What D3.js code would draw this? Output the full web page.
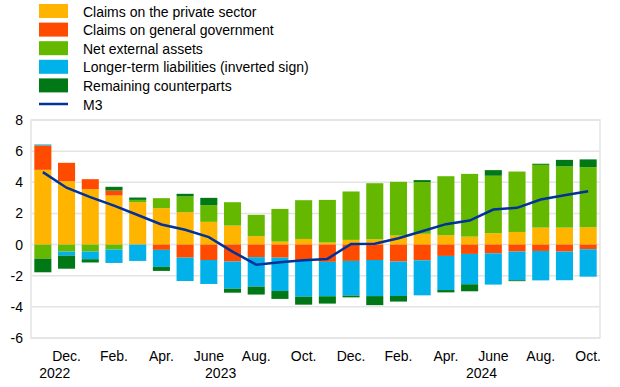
<!DOCTYPE html>
<html>
<head>
<meta charset="utf-8">
<script src="https://cdn.jsdelivr.net/npm/d3@7"></script>
<style>
  body { margin: 0; background: #fff; }
  svg { font-family: "Liberation Sans", Arial, sans-serif; }
</style>
</head>
<body>
<svg width="620" height="387"></svg>
<script>
"use strict";

// Months shown on the x axis (Nov 2022 - Oct 2024)
var months = ["2022-11", "2022-12", "2023-01", "2023-02", "2023-03", "2023-04", "2023-05", "2023-06",
    "2023-07", "2023-08", "2023-09", "2023-10", "2023-11", "2023-12", "2024-01", "2024-02",
    "2024-03", "2024-04", "2024-05", "2024-06", "2024-07", "2024-08", "2024-09", "2024-10"];

// Tick labels (every second month) and year labels
var monthTicks = ["2022-12", "2023-02", "2023-04", "2023-06", "2023-08", "2023-10",
    "2023-12", "2024-02", "2024-04", "2024-06", "2024-08", "2024-10"];
var monthLabels = ["Dec.", "Feb.", "Apr.", "June", "Aug.", "Oct.",
    "Dec.", "Feb.", "Apr.", "June", "Aug.", "Oct."];
var years = ["2022", "2023", "2024"];
var yTicks = [-6, -4, -2, 0, 2, 4, 6, 8];

// Contributions (percentage points)
var privateSector = [4.80, 4.07, 3.56, 3.15, 2.72, 2.34, 2.08, 1.46, 1.22, 0.54, 0.19, 0.36,
    0.13, 0.30, 0.34, 0.58, 0.69, 0.60, 0.51, 0.73, 0.81, 1.09, 1.09, 1.11];
var generalGov = [1.57, 1.18, 0.64, 0.32, 0.00, -0.34, -0.84, -0.99, -1.09, -0.81, -0.84, -1.03,
    -1.11, -1.05, -0.99, -1.09, -1.01, -0.73, -0.60, -0.56, -0.45, -0.41, -0.45, -0.30];
var netExternal = [-0.90, -0.45, -0.45, -0.32, 0.15, 0.64, 1.01, 1.07, 1.50, 1.37, 2.10, 2.49,
    2.74, 3.11, 3.60, 3.45, 3.32, 3.79, 4.03, 3.69, 3.88, 4.03, 3.93, 3.86];
var longerTerm = [0.06, -0.26, -0.49, -0.86, -1.05, -1.09, -1.50, -1.54, -1.74, -1.89, -2.14, -2.32,
    -2.21, -2.23, -2.32, -2.21, -2.25, -2.19, -1.95, -2.01, -1.84, -1.89, -1.84, -1.76];
var remaining = [-0.88, -0.84, -0.21, 0.24, 0.15, -0.26, 0.17, 0.47, -0.26, -0.51, -0.51, -0.51,
    -0.47, -0.11, -0.58, -0.36, 0.13, -0.15, -0.45, 0.36, -0.06, 0.07, 0.42, 0.50];
var m3 = [4.65, 3.65, 3.05, 2.50, 1.90, 1.29, 0.95, 0.48, -0.45, -1.29, -1.14, -1.01,
    -0.92, 0.04, 0.06, 0.41, 0.86, 1.31, 1.54, 2.25, 2.36, 2.89, 3.17, 3.43];

var seriesKeys = ["private", "gov", "ext", "lt", "rem"];
var seriesNames = ["Claims on the private sector", "Claims on general government",
    "Net external assets", "Longer-term liabilities (inverted sign)", "Remaining counterparts"];
var seriesColors = ["#ffb400", "#ff4b00", "#65b800", "#00b1ea", "#007816"];

var table = months.map(function (m, i) {
    return { month: m, "private": privateSector[i], gov: generalGov[i], ext: netExternal[i],
        lt: longerTerm[i], rem: remaining[i] };
});

var svg = d3.select("svg");

var xScale = d3.scaleBand()
    .domain(months)
    .range([31, 600])
    .paddingInner(0.28)
    .paddingOuter(0.14);

var yScale = d3.scaleLinear()
    .domain([-6, 8])
    .range([338, 120]);

// Gridlines
svg.append("g")
    .attr("class", "grid")
    .selectAll("line")
    .data(yTicks)
    .enter().append("line")
        .attr("x1", 31)
        .attr("x2", 600)
        .attr("y1", function (d) { return yScale(d); })
        .attr("y2", function (d) { return yScale(d); })
        .attr("stroke", "#e4e4e4")
        .attr("stroke-width", 1.5);

// Frame
svg.append("rect")
    .attr("x", 31)
    .attr("y", yScale(8))
    .attr("width", 569)
    .attr("height", yScale(-6) - yScale(8))
    .attr("fill", "none")
    .attr("stroke", "#e4e4e4")
    .attr("stroke-width", 1.5);

// Y axis labels
svg.append("g")
    .selectAll("text")
    .data(yTicks)
    .enter().append("text")
        .attr("x", 23)
        .attr("y", function (d) { return yScale(d) + 5; })
        .attr("text-anchor", "end")
        .style("font-size", "14px")
        .attr("fill", "#000")
        .text(function (d) { return d; });

// Stacked bars
var stack = d3.stack()
    .keys(seriesKeys)
    .offset(d3.stackOffsetDiverging);

var layers = stack(table);

svg.append("g")
    .attr("class", "bars")
    .selectAll("g")
    .data(layers)
    .enter().append("g")
        .attr("fill", function (d, i) { return seriesColors[i]; })
    .selectAll("rect")
    .data(function (d) { return d; })
    .enter().append("rect")
        .attr("x", function (d) { return xScale(d.data.month); })
        .attr("width", xScale.bandwidth())
        .attr("y", function (d) { return yScale(Math.max(d[0], d[1])); })
        .attr("height", function (d) { return Math.abs(yScale(d[0]) - yScale(d[1])); });

// M3 line
var line = d3.line()
    .x(function (d, i) { return xScale(months[i]) + xScale.bandwidth() / 2; })
    .y(function (d) { return yScale(d); });

svg.append("path")
    .datum(m3)
    .attr("d", line)
    .attr("fill", "none")
    .attr("stroke", "#003299")
    .attr("stroke-width", 2.5);

// X axis labels
svg.append("g")
    .selectAll("text")
    .data(monthTicks)
    .enter().append("text")
        .attr("x", function (d) { return xScale(d) + xScale.bandwidth() / 2; })
        .attr("y", 361)
        .attr("text-anchor", "middle")
        .style("font-size", "14px")
        .text(function (d, i) { return monthLabels[i]; });

svg.append("g")
    .selectAll("text")
    .data(years)
    .enter().append("text")
        .attr("x", function (y) {
            var inYear = months.filter(function (m) { return m.slice(0, 4) === y; });
            var first = xScale(inYear[0]);
            var last = xScale(inYear[inYear.length - 1]) + xScale.bandwidth();
            return (first + last) / 2;
        })
        .attr("y", 378)
        .attr("text-anchor", "middle")
        .style("font-size", "14px")
        .text(function (d) { return d; });

// Legend
var legend = svg.append("g").attr("class", "legend");
seriesNames.forEach(function (name, i) {
    var cy = 11 + i * 18.6;
    legend.append("rect")
        .attr("x", 39)
        .attr("y", cy - 7)
        .attr("width", 29)
        .attr("height", 14)
        .attr("fill", seriesColors[i]);
    legend.append("text")
        .attr("x", 83)
        .attr("y", cy + 5.5)
        .style("font-size", "14px")
        .text(name);
});
var m3y = 11 + 5 * 18.6;
legend.append("line")
    .attr("x1", 39)
    .attr("x2", 68)
    .attr("y1", m3y)
    .attr("y2", m3y)
    .attr("stroke", "#003299")
    .attr("stroke-width", 2.5);
legend.append("text")
    .attr("x", 83)
    .attr("y", m3y + 5.5)
    .style("font-size", "14px")
    .text("M3");
</script>
</body>
</html>
